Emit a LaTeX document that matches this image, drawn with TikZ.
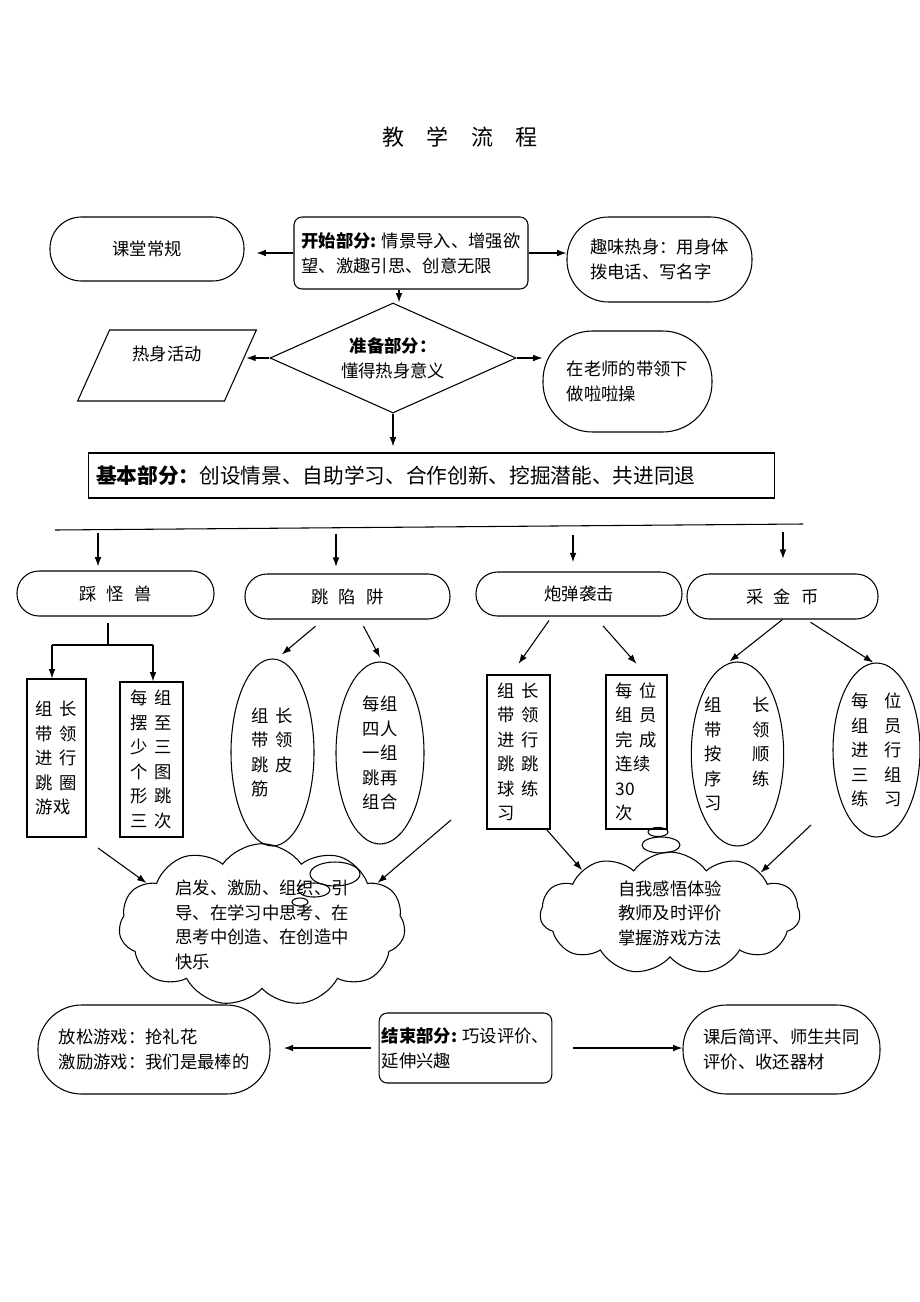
\documentclass[tikz,border=0pt]{standalone}
\usepackage{fontspec}
\setmainfont{Noto Sans CJK SC}
\usetikzlibrary{arrows.meta,shapes.geometric,shapes.symbols}
\newcommand\gapsp[1][0.4em]{\hspace{#1}}

\begin{document}
\begin{tikzpicture}[x=0.75pt,y=-0.75pt,>={Latex[length=7pt,width=5pt]},line width=0.8pt,
    every node/.style={font=\fontsize{13pt}{18.4pt}\selectfont,align=left,inner sep=2pt},
    pill/.style 2 args={draw,rectangle,minimum width=#1,minimum height=#2,rounded corners=0.49*#2},
    card/.style 2 args={draw,rectangle,minimum width=#1,minimum height=#2,rounded corners=6pt},
    tall/.style 2 args={draw,rectangle,minimum width=#1,minimum height=#2},
    oval/.style 2 args={draw,ellipse,inner sep=0pt,minimum width=#1,minimum height=#2},
    puff/.style 2 args={draw,cloud,cloud puffs=11,cloud puff arc=110,aspect=2.2,inner sep=0pt,minimum width=#1,minimum height=#2}]
        \useasboundingbox (0,0) rectangle (920,1302);

        \node[font=\fontsize{16.5pt}{20pt}\selectfont] (Title) at (460,137) {教\gapsp[17pt]学\gapsp[17pt]流\gapsp[17pt]程};

        \node[pill={145.5pt}{48pt}] (Rule) at (147,249) {课堂常规};
        \node[card={175.5pt}{54pt}] (Start) at (411,253) {\textbf{开始部分:} 情景导入、增强欲\\望、激趣引思、创意无限};
        \node[pill={138.75pt}{63.75pt}] (Fun) at (659.5,259.5) {趣味热身：用身体\\拨电话、写名字};

        \node[draw,diamond,aspect=2.2,inner sep=0pt,minimum width=184.5pt,minimum height=82.5pt,align=center] (Prep) at (393,358) {\textbf{准备部分：}\\懂得热身意义};
        \node[draw,trapezium,trapezium left angle=65,trapezium right angle=115,trapezium stretches=true,minimum width=135pt,minimum height=53.25pt] (Warm) at (167,365.5) {热身活动\hspace{8pt}\\\mbox{}};
        \node[pill={126.75pt}{75.75pt}] (Lead) at (627.5,381.5) {在老师的带领下\\做啦啦操};

        \node[draw,minimum height=33.75pt,text width=503pt,inner xsep=6pt,font=\fontsize{15.5pt}{18pt}\selectfont] (Base) at (431.5,475.5) {\textbf{基本部分：}创设情景、自助学习、合作创新、挖掘潜能、共进同退};

        \node[pill={147.75pt}{33.75pt}] (G1) at (115.5,593.5) {踩\gapsp[0.6em]怪\gapsp[0.6em]兽};
        \node[pill={153.75pt}{33.75pt}] (G2) at (347.5,596.5) {跳\gapsp[0.6em]陷\gapsp[0.6em]阱};
        \node[pill={154.5pt}{33pt}] (G3) at (579,594) {炮弹袭击};
        \node[pill={143.25pt}{33.75pt}] (G4) at (782.5,596.5) {采\gapsp[0.6em]金\gapsp[0.6em]币};

        \node[tall={44.25pt}{118.5pt}] (B1) at (56.5,758) {组\gapsp 长\\带\gapsp 领\\进\gapsp 行\\跳\gapsp 圈\\游戏};
        \node[tall={47.25pt}{116.25pt}] (B2) at (151.5,759.5) {每\gapsp 组\\摆\gapsp 至\\少\gapsp 三\\个\gapsp 图\\形\gapsp 跳\\三\gapsp 次};
        \node[oval={62.25pt}{140.25pt}] (E1) at (272.5,752.5) {组\gapsp 长\\带\gapsp 领\\跳\gapsp 皮\\筋};
        \node[oval={66pt}{136.5pt}] (E2) at (380,753) {每组\\四人\\一组\\跳再\\组合};
        \node[tall={47.25pt}{115.5pt}] (B3) at (518.5,752) {组\gapsp 长\\带\gapsp 领\\进\gapsp 行\\跳\gapsp 跳\\球\gapsp 练\\习};
        \node[tall={45.75pt}{115.5pt}] (B4) at (636.5,752) {每\gapsp 位\\组\gapsp 员\\完\gapsp 成\\连续\\30\\次};
        \node[oval={68.25pt}{138pt}] (E3) at (737.5,754) {组\gapsp[23pt]长\\带\gapsp[23pt]领\\按\gapsp[23pt]顺\\序\gapsp[23pt]练\\习};
        \node[oval={65.25pt}{130.5pt}] (E4) at (876.5,750) {每\gapsp[12pt]位\\组\gapsp[12pt]员\\进\gapsp[12pt]行\\三\gapsp[12pt]组\\练\gapsp[12pt]习};

        \node[puff={210pt}{106.5pt}] (C1) at (262,925) {启发、激励、组织、引\\导、在学习中思考、在\\思考中创造、在创造中\\快乐};
        \node[puff={195pt}{91.5pt}] (C2) at (670,913) {自我感悟体验\\教师及时评价\\掌握游戏方法};

        \node[pill={174pt}{66.75pt}] (Relax) at (154,1049.5) {放松游戏：抢礼花\\激励游戏：我们是最棒的};
        \node[card={128.25pt}{52.5pt}] (End) at (465.5,1048) {\textbf{结束部分:} 巧设评价、\\延伸兴趣};
        \node[pill={147.75pt}{66.75pt}] (Sum) at (781.5,1049.5) {课后简评、师生共同\\评价、收还器材};

        \draw (335,874) ellipse [x radius=18.75pt,y radius=9pt];
        \draw (314,890) ellipse [x radius=12pt,y radius=5.25pt];
        \draw (300,902) ellipse [x radius=6pt,y radius=3pt];
        \draw (658,832) ellipse [x radius=7.5pt,y radius=3.4pt];
        \draw (661,845) ellipse [x radius=14.25pt,y radius=6pt];

        \draw[->,shorten >=9pt] (Start.west) -- (Start.west -| Rule.east);
        \draw[->] (Start.east) -- (Start.east -| Fun.west);
        \draw[->] ([xshift=-9pt]Start.south) -- ([xshift=-9pt]Start.south |- Prep.north);
        \draw[->,shorten >=4pt] (Prep.west) -- (Prep.west -| Warm.east);
        \draw[->] (Prep.east) -- (Prep.east -| Lead.west);
        \draw[->,shorten >=4.5pt] (Prep.south) -- (Prep.south |- Base.north);

        \coordinate (H1) at (55,530);
        \coordinate (H2) at (803,524);
        \draw (H1) -- (H2);
        \coordinate (L1) at (98,533);
        \coordinate (L2) at (336,534);
        \coordinate (L3) at (573,535);
        \coordinate (L4) at (783,532);
        \draw[->,shorten >=3pt] (L1) -- (L1 |- G1.north);
        \draw[->,shorten >=5pt] (L2) -- (L2 |- G2.north);
        \draw[->,shorten >=7pt] (L3) -- (L3 |- G3.north);
        \draw[->,shorten >=11pt] (L4) -- (L4 |- G4.north);

        \coordinate (T1) at (108,623);
        \coordinate (J1) at (108,645);
        \coordinate (JL) at (52,645);
        \coordinate (JR) at (153,645);
        \draw (T1) -- (J1);
        \draw (JL) -- (JR);
        \draw[->] (JL) -- (JL |- B1.north);
        \draw[->] (JR) -- (JR |- B2.north);

        \draw[->] ([xshift=-24pt,yshift=-5pt]G2.south) -- ([xshift=7pt,yshift=3pt]E1.north);
        \draw[->] ([xshift=12pt,yshift=-5pt]G2.south) -- ([yshift=3pt]E2.north);
        \draw[->] ([xshift=-22.5pt,yshift=-3pt]G3.south) -- ([yshift=8pt]B3.north);
        \draw[->] ([xshift=18pt,yshift=-7pt]G3.south) -- ([yshift=8pt]B4.north);
        \draw[->] (G4.south) -- ([xshift=-6pt]E3.north);
        \draw[->] ([xshift=21pt,yshift=-2pt]G4.south) -- ([xshift=-2.5pt]E4.north);

        \coordinate (A1) at (98,848);
        \coordinate (A2) at (451,820);
        \coordinate (A3) at (547,830);
        \coordinate (A4) at (811,825);
        \draw[->] (A1) -- (C1.160);
        \draw[->] (A2) -- (C1.20);
        \draw[->] (A3) -- (C2.154);
        \draw[->] (A4) -- (C2.24);

        \draw[->,shorten <=6pt,shorten >=10pt] (End.west) -- (End.west -| Relax.east);
        \draw[->,shorten <=15.75pt] (End.east) -- (End.east -| Sum.west);
\end{tikzpicture}
\end{document}
